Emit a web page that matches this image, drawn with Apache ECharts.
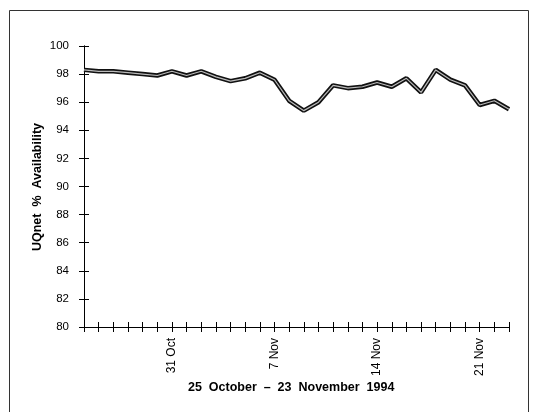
<!DOCTYPE html>
<html>
<head>
<meta charset="utf-8">
<script src="https://cdn.jsdelivr.net/npm/echarts@6/dist/echarts.min.js"></script>
<style>html,body{margin:0;padding:0;background:#fff}#c{width:538px;height:412px}</style>
</head>
<body>
<div id="c"></div>
<script>
var days = ["25 Oct","26 Oct","27 Oct","28 Oct","29 Oct","30 Oct","31 Oct","1 Nov","2 Nov","3 Nov","4 Nov","5 Nov","6 Nov","7 Nov","8 Nov","9 Nov","10 Nov","11 Nov","12 Nov","13 Nov","14 Nov","15 Nov","16 Nov","17 Nov","18 Nov","19 Nov","20 Nov","21 Nov","22 Nov","23 Nov"];
var availability = [98.3,98.2,98.2,98.1,98.0,97.9,98.2,97.9,98.2,97.8,97.5,97.7,98.1,97.6,96.1,95.4,96.0,97.2,97.0,97.1,97.4,97.1,97.7,96.7,98.3,97.6,97.2,95.8,96.1,95.5];
var shownLabels = ["31 Oct","7 Nov","14 Nov","21 Nov"];
var yMin = 80, yMax = 100, yStep = 2;
var yTitle = "UQnet  %  Availability";
var xTitle = "25  October  \u2013  23  November  1994";

var font = "Liberation Sans, Arial, sans-serif";
var chart = echarts.init(document.getElementById('c'));
var xBase = {
  type: 'category', data: days, boundaryGap: false,
  axisLine: {lineStyle: {color: '#000', width: 1}}
};
var yBase = {
  type: 'value', min: yMin, max: yMax, interval: yStep,
  splitLine: {show: false},
  axisLine: {show: true, lineStyle: {color: '#000', width: 1}}
};
chart.setOption({
  animation: false,
  backgroundColor: '#fff',
  grid: {left: 84, right: 29, top: 46, bottom: 85},
  graphic: [
    {type: 'rect', shape: {x: 9.5, y: 10.5, width: 519, height: 420}, style: {fill: null, stroke: '#333', lineWidth: 1}},
    {type: 'text', left: 188, top: 381, style: {text: xTitle, font: 'bold 12.5px ' + font, fill: '#000'}},
    {type: 'text', x: 38, y: 187, rotation: Math.PI / 2,
     style: {text: yTitle, font: 'bold 12.5px ' + font, fill: '#000', align: 'center', verticalAlign: 'middle'}}
  ],
  xAxis: [
    Object.assign({}, xBase, {
      axisTick: {show: true, length: 5, interval: 0, lineStyle: {color: '#000'}},
      axisLabel: {
        rotate: 90, margin: 11, fontSize: 12, fontFamily: font, color: '#000',
        interval: 0,
        formatter: function (v) { return shownLabels.indexOf(v) >= 0 ? v : ''; }
      }
    }),
    Object.assign({}, xBase, {
      position: 'bottom',
      axisTick: {show: true, inside: true, length: 5, interval: 0, lineStyle: {color: '#000'}},
      axisLabel: {show: false}
    })
  ],
  yAxis: [
    Object.assign({}, yBase, {
      axisTick: {show: true, length: 5, lineStyle: {color: '#000'}},
      axisLabel: {fontSize: 11.5, fontFamily: font, color: '#000', margin: 15}
    }),
    Object.assign({}, yBase, {
      position: 'left',
      axisTick: {show: true, inside: true, length: 5, lineStyle: {color: '#000'}},
      axisLabel: {show: false}
    })
  ],
  series: [
    {type: 'line', data: availability, symbol: 'none', lineStyle: {color: '#111', width: 4.5}, z: 3},
    {type: 'line', data: availability, symbol: 'none', lineStyle: {color: '#bbb', width: 1.2}, z: 4}
  ]
});
</script>
</body>
</html>
